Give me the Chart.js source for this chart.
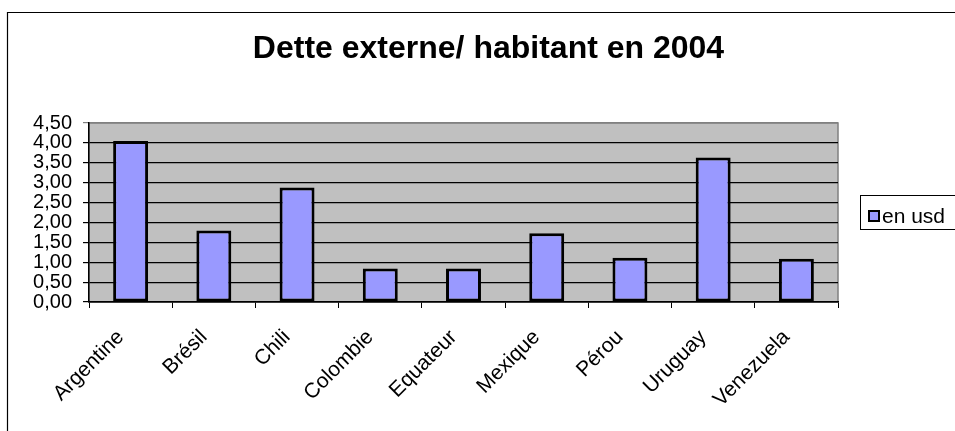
<!DOCTYPE html>
<html>
<head>
<meta charset="utf-8">
<script src="https://cdn.jsdelivr.net/npm/chart.js@4/dist/chart.umd.min.js"></script>
<style>
html,body{margin:0;padding:0;background:#fff;}
#wrap{width:955px;height:431px;position:relative;}
</style>
</head>
<body>
<div id="wrap"><canvas id="c" width="955" height="431"></canvas></div>
<script>
const chartTitle = 'Dette externe/ habitant en 2004';
const seriesLabel = 'en usd';
const categories = ['Argentine','Brésil','Chili','Colombie','Equateur','Mexique','Pérou','Uruguay','Venezuela'];
const values = [4.05, 1.80, 2.88, 0.84, 0.84, 1.73, 1.11, 3.63, 1.09];
const yTicks = [0, 0.5, 1, 1.5, 2, 2.5, 3, 3.5, 4, 4.5];

const FONT = '"Liberation Sans", Arial, sans-serif';
const BAR_FILL = '#9999FF';

const framePlugin = {
  id: 'frame',
  beforeDraw(chart) {
    const ctx = chart.ctx;
    const a = chart.chartArea;
    ctx.save();
    ctx.fillStyle = '#fff';
    ctx.fillRect(0, 0, chart.width, chart.height);
    ctx.strokeStyle = '#000';
    ctx.lineWidth = 1.2;
    ctx.beginPath();
    ctx.moveTo(7.5, chart.height + 5);
    ctx.lineTo(7.5, 12.5);
    ctx.lineTo(chart.width + 5, 12.5);
    ctx.stroke();
    ctx.fillStyle = '#C0C0C0';
    ctx.fillRect(a.left, a.top, a.right - a.left, a.bottom - a.top);
    ctx.strokeStyle = '#808080';
    ctx.lineWidth = 1.5;
    ctx.strokeRect(a.left, a.top, a.right - a.left, a.bottom - a.top);
    ctx.restore();
  },
  afterDraw(chart) {
    const ctx = chart.ctx;
    ctx.save();
    ctx.fillStyle = '#000';
    ctx.font = 'bold 32px ' + FONT;
    ctx.textAlign = 'center';
    ctx.textBaseline = 'alphabetic';
    ctx.fillText(chartTitle, 488.5, 58);
    const ds = chart.data.datasets[0];
    ctx.strokeStyle = '#000';
    ctx.lineWidth = 1;
    ctx.fillStyle = '#fff';
    ctx.fillRect(860.5, 195.5, 120, 34);
    ctx.strokeRect(860.5, 195.5, 120, 34);
    ctx.fillStyle = ds.backgroundColor;
    ctx.fillRect(869, 211, 10, 10);
    ctx.lineWidth = 2;
    ctx.strokeRect(869, 211, 10, 10);
    ctx.fillStyle = '#000';
    ctx.font = '21px ' + FONT;
    ctx.textAlign = 'left';
    ctx.fillText(ds.label, 882, 223);
    ctx.restore();
  }
};

new Chart(document.getElementById('c'), {
  type: 'bar',
  data: {
    labels: categories,
    datasets: [{
      label: seriesLabel,
      data: values,
      backgroundColor: BAR_FILL,
      borderColor: '#000',
      borderWidth: 3,
      borderSkipped: false,
      barPercentage: 0.42,
      categoryPercentage: 1
    }]
  },
  options: {
    responsive: false,
    animation: false,
    devicePixelRatio: 1,
    layout: { padding: { top: 123, right: 117, left: 0, bottom: 0 } },
    plugins: { legend: { display: false }, title: { display: false }, tooltip: { enabled: false } },
    scales: {
      x: {
        offset: true,
        grid: { offset: true, drawOnChartArea: false, drawTicks: true, tickLength: 6, color: '#000', lineWidth: 1 },
        border: { color: '#000', width: 1.5 },
        ticks: {
          font: { family: FONT, size: 21 }, color: '#000',
          minRotation: 45, maxRotation: 45, autoSkip: false, padding: 17, labelOffset: -10
        },
        afterFit(scale) { scale.height = 129; }
      },
      y: {
        min: 0, max: 4.5,
        afterBuildTicks(scale) { scale.ticks = yTicks.map(v => ({ value: v })); },
        grid: {
          color: ctx => (ctx.tick && ctx.tick.value === 4.5) ? '#808080' : '#000',
          lineWidth: 1.2, drawTicks: true, tickLength: 6
        },
        border: { color: '#000', width: 1.5 },
        ticks: {
          font: { family: FONT, size: 20 }, color: '#000', padding: 11, autoSkip: false,
          callback: v => Number(v).toFixed(2).replace('.', ',')
        },
        afterFit(scale) { scale.width = 89; }
      }
    }
  },
  plugins: [framePlugin]
});
</script>
</body>
</html>
